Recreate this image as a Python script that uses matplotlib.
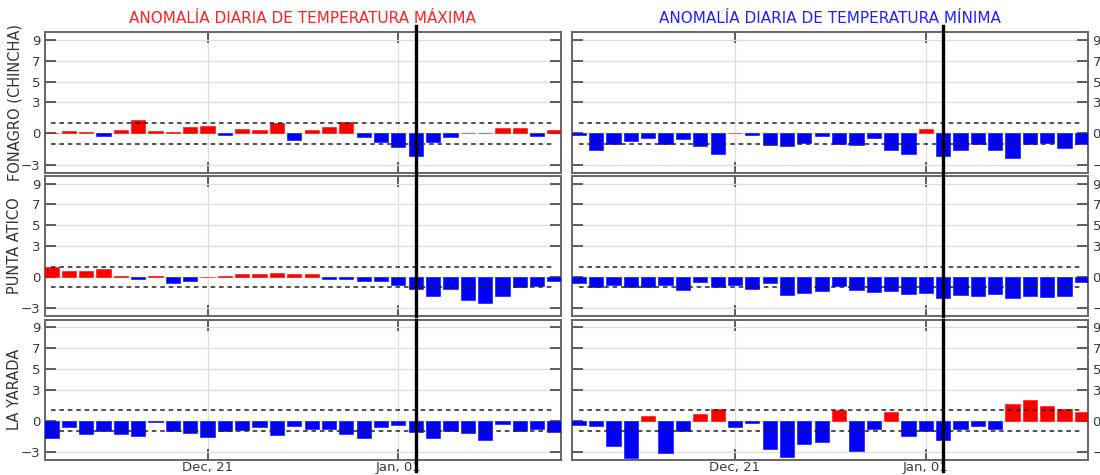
import numpy as np
import pandas as pd
import matplotlib
matplotlib.use("Agg")
import matplotlib.pyplot as plt
import matplotlib.dates as mdates

# daily anomalies, 12 Dec to 10 Jan
fechas = pd.date_range("2021-12-12", "2022-01-10", freq="D")
estaciones = ["FONAGRO (CHINCHA)", "PUNTA ATICO", "LA YARADA"]

tmax_fonagro = [0.05, 0.25, 0.12, -0.22, 0.32, 1.28, 0.22, 0.12, 0.64, 0.73,
                -0.16, 0.45, 0.32, 1.02, -0.60, 0.32, 0.64, 1.08, -0.35, -0.86,
                -1.34, -2.14, -0.86, -0.35, 0.02, 0.02, 0.51, 0.48, -0.22, 0.32]
tmax_atico = [0.96, 0.61, 0.61, 0.74, 0.05, -0.16, 0.10, -0.58, -0.35, 0.03,
              0.10, 0.32, 0.32, 0.39, 0.32, 0.32, -0.16, -0.22, -0.35, -0.35,
              -0.74, -1.13, -1.80, -1.19, -2.22, -2.54, -1.80, -0.96, -0.84, -0.39]
tmax_yarada = [-1.66, -0.64, -1.31, -0.99, -1.31, -1.50, -0.13, -0.99, -1.21, -1.60,
               -0.99, -0.93, -0.61, -1.40, -0.48, -0.80, -0.80, -1.31, -1.66, -0.61,
               -0.42, -1.09, -1.66, -0.99, -1.21, -1.88, -0.29, -0.99, -0.80, -1.09]

tmin_fonagro = [-0.16, -1.57, -1.02, -0.77, -0.42, -0.99, -0.54, -1.21, -1.95, 0.02,
                -0.16, -1.15, -1.21, -0.96, -0.22, -1.02, -1.15, -0.42, -1.57, -1.95,
                0.45, -2.14, -1.63, -1.02, -1.57, -2.40, -1.02, -0.96, -1.41, -1.02]
tmin_atico = [-0.58, -0.96, -0.80, -0.96, -0.96, -0.80, -1.22, -0.51, -0.96, -0.80,
              -1.13, -0.58, -1.74, -1.54, -1.32, -0.90, -1.22, -1.41, -1.32, -1.61,
              -1.51, -2.03, -1.74, -1.80, -1.61, -2.00, -1.80, -1.93, -1.80, -0.51]
tmin_yarada = [-0.42, -0.48, -2.46, -3.60, 0.48, -3.10, -0.96, 0.67, 1.09, -0.61,
               -0.26, -2.68, -3.45, -2.20, -2.08, 1.02, -2.88, -0.80, 0.86, -1.47,
               -0.96, -1.88, -0.80, -0.48, -0.80, 1.57, 1.98, 1.47, 1.09, 0.86]

tmax = [tmax_fonagro, tmax_atico, tmax_yarada]
tmin = [tmin_fonagro, tmin_atico, tmin_yarada]

titulos = ["ANOMALÍA DIARIA DE TEMPERATURA MÁXIMA", "ANOMALÍA DIARIA DE TEMPERATURA MÍNIMA"]
colores_titulo = ["#ff2020", "#2020ff"]
yticks = [-3, 0, 3, 5, 7, 9]
umbral = 1.0
dia_actual = pd.Timestamp("2022-01-02")
ticks_x = [pd.Timestamp("2021-12-21"), pd.Timestamp("2022-01-01")]

fig = plt.figure(figsize=(11, 4.75), dpi=100)
x0 = [0.0405, 0.520]
ancho = 0.4695
alto = 0.2955
bases = [0.6365, 0.3345, 0.0316]

xlim = (fechas[0] - pd.Timedelta(hours=9.5), fechas[-1] + pd.Timedelta(hours=9))

for col, datos in enumerate([tmax, tmin]):
    for fila in range(3):
        ax = fig.add_axes([x0[col], bases[fila], ancho, alto])
        vals = np.array(datos[fila])
        colores = np.where(vals >= 0, "#ff0000", "#0000ff")
        ax.bar(fechas, vals, width=0.82, color=colores, edgecolor=colores,
               linewidth=0.4, zorder=3)
        ax.hlines([umbral, -umbral], fechas[0], fechas[-1], colors="#222222",
                  linestyles=(0, (3, 2.5)), linewidth=1.1, zorder=4)
        # current day marker, runs a bit past the panels
        ymin = -0.08 if fila == 2 else 0
        ymax = 1.045 if fila == 0 else 1
        ax.axvline(dia_actual, ymin=ymin, ymax=ymax, color="black",
                   linewidth=2.4, clip_on=False, zorder=6)

        ax.set_xlim(xlim)
        ax.set_ylim(-3.78, 9.75)
        ax.set_yticks(yticks)
        ax.set_xticks(ticks_x)
        ax.xaxis.set_major_formatter(mdates.DateFormatter("%b, %d"))
        ax.grid(True, color="#dddddd", linewidth=0.9, zorder=0)
        ax.tick_params(direction="in", length=8, width=1.2, color="#444444",
                       labelcolor="#3a3a3a", labelsize=9.5,
                       top=True, bottom=True, left=True, right=True)
        for sp in ax.spines.values():
            sp.set_color("#666666")
            sp.set_linewidth(1.4)

        if col == 0:
            ax.tick_params(labelleft=True, labelright=False, pad=3)
            ax.set_ylabel(estaciones[fila], fontsize=10.5, color="#333333")
            ax.yaxis.set_label_coords(-0.043, 0.5)
        else:
            ax.tick_params(labelleft=False, labelright=True, pad=3)
        if fila != 2:
            ax.tick_params(labelbottom=False)
        else:
            ax.tick_params(axis="x", pad=1)
        if fila == 0:
            ax.set_title(titulos[col], color=colores_titulo[col], fontsize=11, pad=7)

fig.savefig("out.png", dpi=100)
